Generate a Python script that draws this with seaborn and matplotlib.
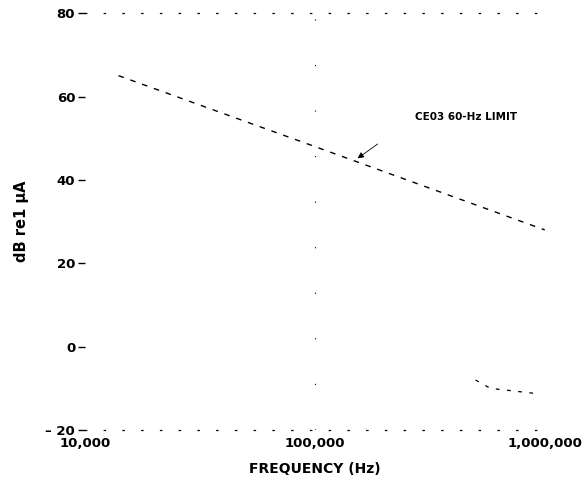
import matplotlib
matplotlib.use("Agg")
import matplotlib.pyplot as plt
import seaborn as sns
import pandas as pd

# CE03 60-Hz limit curve
limit_freq = [14000, 100000, 1000000]
limit_db = [65.0, 48.0, 28.0]

# faint low-level trace at the lower right
low_freq = [500000, 580000, 900000]
low_db = [-8.0, -10.0, -11.2]

y_ticks = [-20, 0, 20, 40, 60, 80]
y_labels = ["\u2013 20", "0", "20", "40", "60", "80"]
x_ticks = [10000, 100000, 1000000]
x_labels = ["10,000", "100,000", "1,000,000"]

sns.set_style("white")
plt.rcParams["font.family"] = ["DejaVu Sans"]
plt.rcParams["font.weight"] = "bold"
plt.rcParams["text.color"] = "black"
plt.rcParams["axes.labelcolor"] = "black"
plt.rcParams["xtick.color"] = "black"
plt.rcParams["ytick.color"] = "black"

fig = plt.figure(figsize=(5.82, 4.87), dpi=100)
ax = fig.add_axes([0.146, 0.117, 0.79, 0.856])

df = pd.DataFrame({"freq": limit_freq, "db": limit_db})
sns.lineplot(data=df, x="freq", y="db", ax=ax, color="black",
             linewidth=1.0, linestyle=(0, (4, 5)))
df_low = pd.DataFrame({"freq": low_freq, "db": low_db})
sns.lineplot(data=df_low, x="freq", y="db", ax=ax, color="black",
             linewidth=0.9, linestyle=(0, (3, 6)))

ax.set_xscale("log")
ax.set_xlim(10000, 1000000)
ax.set_ylim(-20, 80)
ax.set_xticks(x_ticks)
ax.set_xticklabels(x_labels, fontsize=9.5, fontweight="bold")
ax.minorticks_off()
ax.set_yticks(y_ticks)
ax.set_yticklabels(y_labels, fontsize=9.5, fontweight="bold")
ax.tick_params(axis="y", length=5, width=1, direction="out", pad=2, left=True)
ax.tick_params(axis="x", length=0, pad=5)

# faded frame, as in the scanned original
for side in ["left", "right"]:
    ax.spines[side].set_visible(False)
for side in ["top", "bottom"]:
    ax.spines[side].set_linestyle((0, (1, 14)))
    ax.spines[side].set_linewidth(0.9)
    ax.spines[side].set_color("black")
ax.axvline(100000, color="black", linewidth=0.8, linestyle=(0, (1, 40)))

ax.set_xlabel("FREQUENCY (Hz)", fontsize=10, fontweight="bold", labelpad=9)
ax.set_ylabel("dB re1 \u03bcA", fontsize=10.5, fontweight="bold", labelpad=12)

ax.text(272000, 55, "CE03 60-Hz LIMIT", fontsize=7.5, fontweight="bold",
        ha="left", va="center")
ax.annotate("", xy=(150000, 44.8), xytext=(192000, 49),
            arrowprops=dict(arrowstyle="-|>", color="black", lw=0.6,
                            mutation_scale=9))

fig.savefig("out.png", dpi=100)
